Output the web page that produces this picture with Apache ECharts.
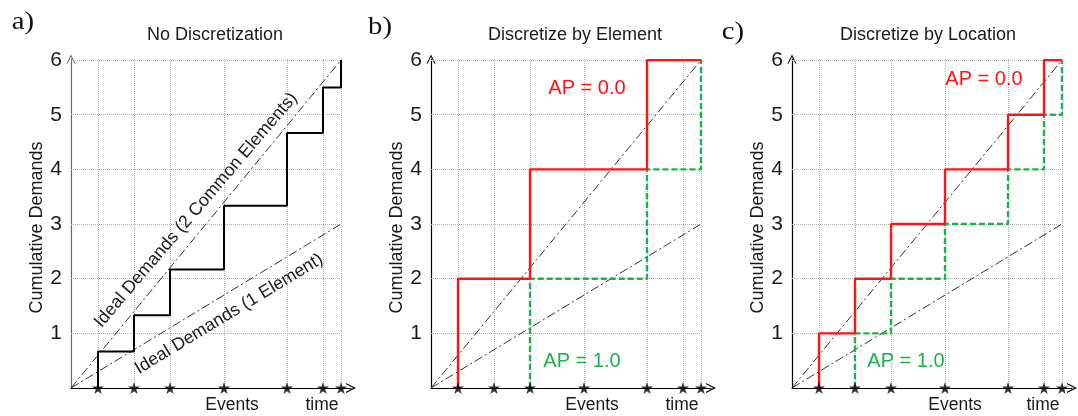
<!DOCTYPE html>
<html>
<head>
<meta charset="utf-8">
<title>Cumulative Demands</title>
<script src="https://cdn.jsdelivr.net/npm/echarts@6/dist/echarts.min.js"></script>
<style>
  html, body { margin: 0; padding: 0; background: #fff; }
  #chart { width: 1078px; height: 416px; }
</style>
</head>
<body>
<div id="chart"></div>
<script>
// event times on the x axis (same in all three panels)
const events = [1, 2.333, 3.667, 5.667, 8, 9.333, 10];
const yTicks = [1, 2, 3, 4, 5, 6];

// cumulative demand after each event
const noDiscValues = [0.667, 1.333, 2.167, 3.333, 4.667, 5.5, 6];
const elementRed = [2, 2, 4, 4, 6, 6, 6];
const elementGreen = [0, 0, 2, 2, 4, 4, 6];
const locationRed = [1, 2, 3, 4, 5, 6, 6];
const locationGreen = [0, 1, 2, 3, 4, 5, 6];

// ideal demand lines: value reached at the last event
const idealTwo = [[0, 0], [10, 6]];
const idealOne = [[0, 0], [10, 3]];

const panelTitles = ['No Discretization', 'Discretize by Element', 'Discretize by Location'];
const panelLetters = ['a)', 'b)', 'c)'];

const FONT = "'Liberation Sans', Arial, sans-serif";
const RED = '#ff1414';
const GREEN = '#1db14b';
const X_MAX = 10.37;
const Y_MAX = 6.02;
const arrowPath = 'path://M0,10 L5,0 L10,10 L8.7,10 L5,2.6 L1.3,10 Z';
const starPath = 'path://M50,0 L61,35 L98,35 L68,57 L79,91 L50,70 L21,91 L32,57 L2,35 L39,35 Z';

// panel layout
const gridLefts = [71, 431, 792];
const gridTop = 59;
const gridHeight = 329;
const gridWidth = 280;

// turn per-event values into step corners
function stepData(vals) {
  const k = vals.findIndex(v => v > 0);
  const pts = [[events[k], 0]];
  for (let i = k; i < vals.length; i++) {
    if (i > k) pts.push([events[i], vals[i - 1]]);
    pts.push([events[i], vals[i]]);
  }
  return pts;
}

const gridLines = [
  ...events.map(e => [{ coord: [e, 0] }, { coord: [e, Y_MAX] }]),
  ...yTicks.map(v => [{ coord: [0, v] }, { coord: [10, v] }])
];

const grids = gridLefts.map(l => ({ left: l, top: gridTop, width: gridWidth, height: gridHeight }));

const xAxes = gridLefts.map((l, i) => ({
  gridIndex: i,
  type: 'value',
  min: 0,
  max: X_MAX,
  axisLabel: { show: false },
  axisTick: { show: false },
  splitLine: { show: false },
  axisLine: {
    lineStyle: { color: '#000', width: 1.2 },
    symbol: ['none', arrowPath],
    symbolSize: [10, 12]
  }
}));

const yAxes = gridLefts.map((l, i) => ({
  gridIndex: i,
  type: 'value',
  min: 0,
  max: Y_MAX,
  interval: 1,
  name: 'Cumulative Demands',
  nameLocation: 'middle',
  nameGap: 24,
  nameTextStyle: { fontFamily: FONT, fontSize: 18, color: '#1a1a1a', padding: [0, 0, 0, -8] },
  axisLabel: {
    margin: 9,
    fontFamily: FONT,
    fontSize: 21,
    color: '#1a1a1a',
    showMaxLabel: false,
    formatter: v => (v >= 1 && Number.isInteger(v)) ? String(v) : ''
  },
  axisTick: { show: false },
  splitLine: { show: false },
  axisLine: {
    lineStyle: { color: i === 0 ? '#666' : '#000', width: 1.2 },
    symbol: ['none', arrowPath],
    symbolSize: [9, 12]
  }
}));

const series = [];
gridLefts.forEach((l, i) => {
  // dotted grid + ideal demand lines
  series.push({
    type: 'line', xAxisIndex: i, yAxisIndex: i, data: idealTwo,
    symbol: 'none', silent: true, z: 3,
    lineStyle: { color: '#333', width: 1, type: [9, 3, 2, 3] },
    markLine: {
      silent: true, symbol: 'none', label: { show: false }, z: 1,
      lineStyle: { color: '#b0b0b0', width: 1, type: [1, 1] },
      emphasis: { disabled: true },
      data: gridLines
    }
  });
  series.push({
    type: 'line', xAxisIndex: i, yAxisIndex: i, data: idealOne,
    symbol: 'none', silent: true, z: 3,
    lineStyle: { color: '#333', width: 1, type: [9, 3, 2, 3] }
  });
});

series.push({
  type: 'line', xAxisIndex: 0, yAxisIndex: 0, data: stepData(noDiscValues),
  symbol: 'none', silent: true, z: 5,
  lineStyle: { color: '#000', width: 2 }
});
series.push({
  type: 'line', xAxisIndex: 1, yAxisIndex: 1, data: stepData(elementGreen),
  symbol: 'none', silent: true, z: 5,
  lineStyle: { color: GREEN, width: 2.4, type: [6, 3] }
});
series.push({
  type: 'line', xAxisIndex: 1, yAxisIndex: 1, data: stepData(elementRed),
  symbol: 'none', silent: true, z: 6,
  lineStyle: { color: RED, width: 2.4 }
});
series.push({
  type: 'line', xAxisIndex: 2, yAxisIndex: 2, data: stepData(locationGreen),
  symbol: 'none', silent: true, z: 5,
  lineStyle: { color: GREEN, width: 2.4, type: [6, 3] }
});
series.push({
  type: 'line', xAxisIndex: 2, yAxisIndex: 2, data: stepData(locationRed),
  symbol: 'none', silent: true, z: 6,
  lineStyle: { color: RED, width: 2.4 }
});

// event stars on the time axis
gridLefts.forEach((l, i) => {
  series.push({
    type: 'scatter', xAxisIndex: i, yAxisIndex: i,
    data: events.map(e => [e, 0]),
    symbol: starPath, symbolSize: 12, clip: false, silent: true, z: 10,
    itemStyle: { color: '#000' }
  });
});

function txt(text, x, y, size, color, extra) {
  return Object.assign({
    type: 'text', x: x, y: y, silent: true, z: 100,
    style: { text: text, font: size + 'px ' + FONT, fill: color, align: 'center', verticalAlign: 'middle' }
  }, extra || {});
}

const titleCenters = [215, 575, 928];
const letterPos = [[23, 22], [380, 27], [733, 32]];
const eventsLabelX = [232, 592, 955];
const timeLabelX = [322, 682, 1043];

const graphics = [];
panelTitles.forEach((t, i) => {
  graphics.push(txt(t, titleCenters[i], 35, 18, '#1a1a1a'));
  graphics.push({
    type: 'text', x: letterPos[i][0], y: letterPos[i][1], silent: true, z: 100, scaleX: 1.15,
    style: { text: panelLetters[i], font: '25px "Liberation Serif", "Times New Roman", serif', fill: '#111', align: 'center', verticalAlign: 'middle' }
  });
  graphics.push(txt('Events', eventsLabelX[i], 405, 17.5, '#1a1a1a'));
  graphics.push(txt('time', timeLabelX[i], 405, 17.5, '#1a1a1a'));
});
graphics.push(txt('Ideal Demands (2 Common Elements)', 196, 210, 17.8, '#1a1a1a', { rotation: 49.5 * Math.PI / 180 }));
graphics.push(txt('Ideal Demands (1 Element)', 229, 314, 17.8, '#1a1a1a', { rotation: 31.2 * Math.PI / 180 }));
graphics.push(txt('AP = 0.0', 587, 88, 20, RED));
graphics.push(txt('AP = 1.0', 582, 361, 20, GREEN));
graphics.push(txt('AP = 0.0', 984, 79, 20, RED));
graphics.push(txt('AP = 1.0', 906, 361, 20, GREEN));

const chart = echarts.init(document.getElementById('chart'), null, { renderer: 'canvas' });
chart.setOption({
  animation: false,
  backgroundColor: '#fff',
  grid: grids,
  xAxis: xAxes,
  yAxis: yAxes,
  series: series,
  graphic: graphics
});
</script>
</body>
</html>
